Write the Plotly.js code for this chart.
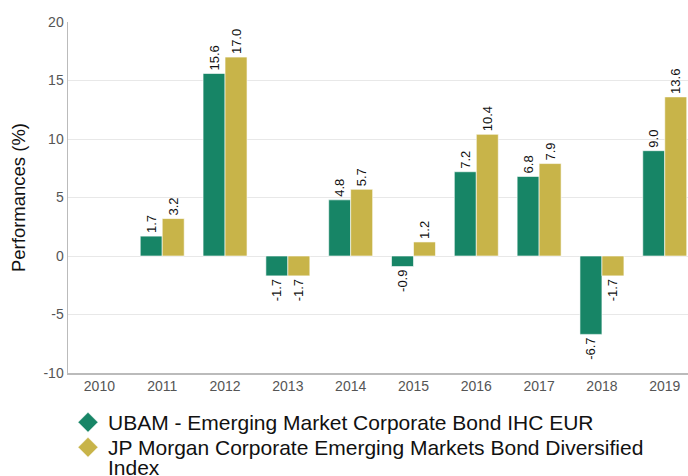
<!DOCTYPE html>
<html><head><meta charset="utf-8">
<script src="https://cdn.plot.ly/plotly-3.0.1.min.js"></script>
<style>html,body{margin:0;padding:0;background:#fff}#chart{width:688px;height:476px}</style>
</head><body><div id="chart"></div>
<script>
const years = ["2010","2011","2012","2013","2014","2015","2016","2017","2018","2019"];
const ubam = [null, 1.7, 15.6, -1.7, 4.8, -0.9, 7.2, 6.8, -6.7, 9.0];
const jpm = [null, 3.2, 17.0, -1.7, 5.7, 1.2, 10.4, 7.9, -1.7, 13.6];
const yTickVals = [-10, -5, 0, 5, 10, 15, 20];
const yTickText = ["-10", "-5", "0", "5", "10", "15", "20"];
const names = ["UBAM - Emerging Market Corporate Bond IHC EUR", "JP Morgan Corporate Emerging Markets Bond Diversified<br>Index"];
const colors = ["#178566", "#c8b449"];
const FONT = "Liberation Sans, Arial, sans-serif";
const fmt = a => a.map(v => v === null ? "" : v.toFixed(1));
const mk = (y, i) => ({
  type: "bar", x: years, y: y, name: names[i],
  marker: {color: colors[i], line: {color: "rgba(255,255,255,0.6)", width: 1}},
  text: fmt(y), textposition: "outside", textangle: -90, constraintext: "none",
  textfont: {family: FONT, size: 13, color: "#111"},
  cliponaxis: false, hoverinfo: "skip"
});
const data = [mk(ubam, 0), mk(jpm, 1)];
const layout = {
  width: 688, height: 476,
  margin: {l: 68, r: 0, t: 22, b: 103, autoexpand: false},
  paper_bgcolor: "#fff", plot_bgcolor: "#fff",
  barmode: "group", bargap: 0.3, bargroupgap: 0,
  font: {family: FONT, color: "#555"},
  xaxis: {type: "category", range: [-0.5, 9.37], showgrid: false, ticks: "",
    tickfont: {size: 14, color: "#555"}, showline: true, linecolor: "#bbb", linewidth: 1.5,
    fixedrange: true},
  yaxis: {range: [-10, 20], tickvals: yTickVals, ticktext: yTickText, showgrid: true,
    gridcolor: "#e8e8e8", gridwidth: 1,
    zeroline: false, showline: true, linecolor: "#bbb", linewidth: 1.5, ticks: "",
    tickfont: {size: 14, color: "#555"},
    title: {text: "Performances (%)", font: {size: 18.5, color: "#111"}, standoff: 13}},
  showlegend: true,
  legend: {orientation: "v", x: 0, xanchor: "left", y: -0.083, yanchor: "top",
    font: {size: 21, color: "#111"}, tracegroupgap: 0, itemwidth: 30, valign: "top",
    bgcolor: "rgba(0,0,0,0)"}
};
Plotly.newPlot("chart", data, layout, {displayModeBar: false, staticPlot: true}).then(() => {
  document.querySelectorAll(".legendpoints path").forEach(p => {
    p.setAttribute("d", "M0,-10L10,0L0,10L-10,0Z");
  });
  // tighten line spacing of the wrapped legend entry
  document.querySelectorAll(".legendtext tspan.line").forEach((t, i) => {
    if (i > 0 && t.getAttribute("dy")) t.setAttribute("dy", "0.95em");
  });
  // tighten spacing between legend entries
  const tr = document.querySelectorAll(".legend .traces");
  if (tr.length === 2) {
    const p0 = tr[0].querySelector(".legendpoints path").getBoundingClientRect();
    const p1 = tr[1].querySelector(".legendpoints path").getBoundingClientRect();
    const delta = (p0.top + 25) - p1.top;
    const m = /translate\(\s*([-\d.e]+)[ ,]+([-\d.e]+)\s*\)/.exec(tr[1].getAttribute("transform") || "");
    if (m) tr[1].setAttribute("transform", "translate(" + m[1] + "," + (parseFloat(m[2]) + delta) + ")");
  }
  // legend was sized before tightening; drop its clipping
  document.querySelectorAll(".legend [clip-path], .legend .scrollbox").forEach(el => el.removeAttribute("clip-path"));
  document.querySelectorAll(".legend .scrollbar").forEach(el => el.remove());
});
</script>
</body></html>
